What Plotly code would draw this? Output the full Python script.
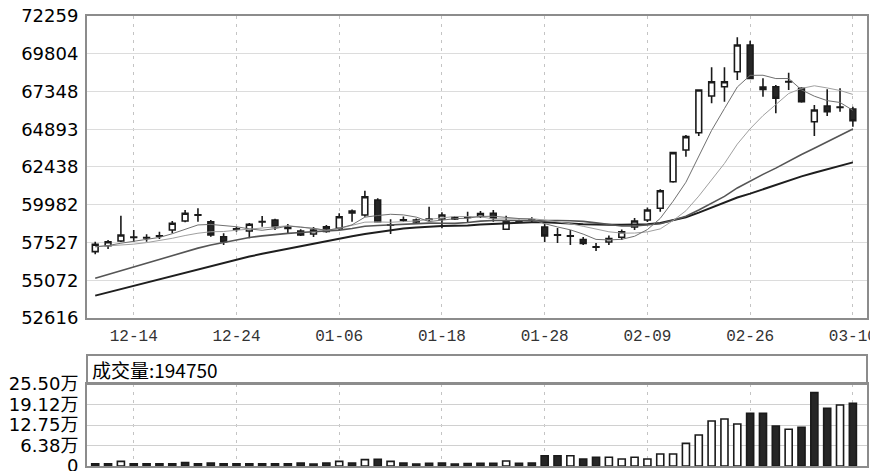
import plotly.graph_objects as go

# ---------------- data ----------------
tick_dates = ["12-14", "12-24", "01-06", "01-18", "01-28", "02-09", "02-26", "03-10"]
tick_pos = [3, 11, 19, 27, 35, 43, 51, 59]

opens = [56930, 57320, 57625, 57860, 57830, 57940, 58340, 58925, 59300, 58880,
         57905, 58395, 58275, 58870, 58990, 58500, 58275, 58080, 58540, 58450,
         59445, 59315, 60290, 58680, 58980, 58990, 59025, 59055, 59060, 59160,
         59220, 59425, 58385, 58910, 59000, 58535, 58000, 57960, 57720, 57225,
         57560, 57865, 58535, 58990, 59750, 61480, 63545, 64670, 67055, 67660,
         68635, 70375, 67640, 67660, 67970, 67555, 65385, 66405, 66330, 66210]
highs = [57580, 57690, 59270, 58340, 58060, 58230, 58925, 59640, 59750, 58990,
         58125, 58555, 58795, 59250, 59075, 58730, 58385, 58535, 58665, 59425,
         59675, 60895, 60400, 59035, 59220, 59090, 59855, 59490, 59250, 59530,
         59575, 59640, 59270, 59000, 59165, 58730, 58470, 58340, 57885, 57495,
         57985, 58375, 59120, 59805, 60990, 63435, 64520, 67490, 68920, 68920,
         70875, 70655, 68205, 67770, 68570, 67620, 66470, 67490, 67555, 66360]
lows = [56760, 57100, 57560, 57560, 57580, 57750, 58125, 58840, 58880, 57905,
        57365, 58230, 57800, 58555, 58340, 58145, 57950, 57885, 58165, 58340,
        58880, 59205, 58880, 58080, 58860, 58795, 58925, 58450, 58990, 58840,
        59120, 58880, 58340, 58800, 58840, 57560, 57495, 57365, 57365, 56975,
        57365, 57690, 58340, 58860, 59530, 61415, 63110, 64455, 66580, 66685,
        68095, 68140, 67010, 65930, 67445, 66620, 64455, 65755, 66035, 65060]
closes = [57410, 57580, 58015, 57880, 57850, 57960, 58780, 59425, 59330, 58015,
          57580, 58415, 58710, 58890, 58555, 58440, 58015, 58340, 58250, 59205,
          59575, 60505, 58880, 58650, 59000, 58860, 59045, 59315, 59150, 59180,
          59415, 59100, 58880, 58850, 58980, 57950, 58030, 57940, 57465, 57250,
          57790, 58230, 58925, 59640, 60895, 63370, 64410, 67445, 67985, 67985,
          70375, 68205, 67480, 66905, 68000, 66685, 66145, 66035, 66310, 65450]

ma5 = [57250, 57330, 57480, 57620, 57747, 57857, 58097, 58379, 58669, 58702,
       58626, 58553, 58410, 58322, 58430, 58602, 58522, 58448, 58320, 58450,
       58677, 59175, 59283, 59363, 59322, 59179, 58887, 58974, 59074, 59110,
       59221, 59232, 59145, 59085, 59045, 58752, 58538, 58350, 58073, 57727,
       57695, 57735, 57932, 58367, 59096, 60212, 61448, 63152, 64821, 66239,
       67640, 68399, 68406, 68190, 68193, 67455, 67043, 66754, 66635, 66125]
ma10 = [57250, 57300, 57350, 57420, 57520, 57640, 57800, 57980, 58130, 58225,
        58242, 58325, 58395, 58496, 58566, 58614, 58538, 58429, 58321, 58440,
        58640, 58849, 58866, 58842, 58886, 58928, 59031, 59129, 59219, 59216,
        59200, 59060, 59060, 59080, 59078, 58987, 58885, 58748, 58579, 58386,
        58224, 58137, 58141, 58220, 58412, 58954, 59592, 60542, 61594, 62668,
        63926, 64924, 65779, 66506, 67216, 67548, 67721, 67580, 67413, 67159]
ma20 = [55200, 55450, 55700, 55950, 56200, 56450, 56700, 56940, 57160, 57360,
        57540, 57710, 57850, 57960, 58050, 58120, 58180, 58230, 58280, 58332,
        58441, 58587, 58630, 58669, 58726, 58771, 58784, 58779, 58770, 58828,
        58920, 58954, 58963, 58961, 58982, 58957, 58958, 58938, 58899, 58801,
        58712, 58598, 58600, 58650, 58745, 58970, 59238, 59645, 60087, 60527,
        61075, 61530, 61960, 62363, 62814, 63251, 63656, 64061, 64503, 64913]
ma30 = [54070, 54285, 54500, 54715, 54930, 55145, 55360, 55575, 55790, 56000,
        56210, 56420, 56610, 56790, 56960, 57130, 57300, 57470, 57630, 57790,
        57940, 58080, 58210, 58330, 58430, 58510, 58570, 58605, 58620, 58627,
        58694, 58744, 58773, 58806, 58843, 58843, 58818, 58768, 58706, 58681,
        58688, 58682, 58689, 58714, 58792, 58956, 59169, 59473, 59797, 60090,
        60450, 60707, 60993, 61268, 61568, 61829, 62066, 62290, 62529, 62738]

volumes = [6500, 6500, 14500, 6500, 6500, 6500, 6500, 10400, 6500, 9400,
           6500, 6500, 6500, 6500, 6500, 6500, 9400, 6000, 9400, 14500,
           9400, 19700, 20800, 14500, 9400, 6000, 8400, 9400, 6000, 7800,
           8400, 8400, 15600, 8400, 9400, 32100, 32100, 32100, 21800, 27000,
           27000, 21800, 27000, 21800, 37300, 37300, 70500, 96400, 140000, 146200,
           130700, 163800, 163800, 124400, 114100, 120300, 228100, 179400, 189800, 194750]
vol_up = [0, 0, 1, 0, 0, 0, 0, 0, 0, 0,
          0, 0, 0, 0, 0, 0, 0, 0, 0, 1,
          0, 1, 0, 1, 0, 0, 0, 0, 0, 0,
          0, 0, 1, 0, 0, 0, 0, 1, 0, 0,
          1, 1, 1, 1, 1, 1, 1, 1, 1, 1,
          1, 0, 0, 0, 1, 0, 0, 0, 1, 0]

price_ticks = [52616, 55072, 57527, 59982, 62438, 64893, 67348, 69804, 72259]
vol_ticks = [0, 63750, 127500, 191250, 255000]
vol_tick_text = ["0", "6.38万", "12.75万", "19.12万", "25.50万"]
vol_label = "成交量"

# ---------------- figure ----------------
idx = list(range(len(closes)))
fig = go.Figure()

ma_styles = [(ma30, "#1e1e1e", 2.0), (ma20, "#555555", 1.6),
             (ma10, "#a0a0a0", 1.0), (ma5, "#707070", 1.0)]
for vals, col, w in ma_styles:
    fig.add_trace(go.Scatter(x=idx, y=vals, mode="lines",
                             line=dict(color=col, width=w),
                             xaxis="x", yaxis="y", hoverinfo="skip"))

fig.add_trace(go.Candlestick(
    x=idx, open=opens, high=highs, low=lows, close=closes,
    increasing=dict(line=dict(color="#1a1a1a", width=1.6), fillcolor="#ffffff"),
    decreasing=dict(line=dict(color="#1a1a1a", width=1.6), fillcolor="#262626"),
    whiskerwidth=0, xaxis="x", yaxis="y"))

fig.add_trace(go.Bar(
    x=idx, y=volumes, width=0.55,
    marker=dict(color=["#ffffff" if u else "#262626" for u in vol_up],
                line=dict(color="#1a1a1a", width=1.6)),
    xaxis="x2", yaxis="y2"))

border = "#8c8c8c"
main_bottom = (458 - 310) / 450
vol_top = (458 - 376) / 450
box_top = (458 - 347) / 450

# the page body adds an 8px offset, so the plot area is placed 8px up/left
fig.update_layout(
    width=870, height=471,
    margin=dict(l=79, r=11, t=8, b=13),
    paper_bgcolor="white", plot_bgcolor="white",
    showlegend=False, boxgap=0.36,
    xaxis=dict(domain=[0, 1], anchor="y", range=[-0.64, 60.1], automargin=False,
               tickvals=tick_pos, ticktext=tick_dates, ticklabeloverflow="allow",
               tickfont=dict(family="Liberation Mono", size=16, color="#333333"),
               ticks="", ticklabelstandoff=2,
               showgrid=True, gridcolor="#c4c4c4", griddash="3px,5px", gridwidth=1,
               showline=True, linecolor=border, linewidth=2, mirror=True,
               zeroline=False, rangeslider=dict(visible=False)),
    yaxis=dict(domain=[main_bottom, 1], anchor="x", range=[52616, 72259], automargin=False,
               tickvals=price_ticks, ticktext=[str(v) for v in price_ticks],
               ticklabeloverflow="allow",
               tickfont=dict(family="DejaVu Sans", size=18, color="#000000"),
               ticks="", ticklabelstandoff=3,
               showgrid=True, gridcolor="#dcdcdc", gridwidth=1,
               showline=True, linecolor=border, linewidth=2, mirror=True,
               zeroline=False),
    xaxis2=dict(domain=[0, 1], anchor="y2", range=[-0.64, 60.1], automargin=False,
                tickvals=tick_pos, showticklabels=False, ticks="",
                showgrid=True, gridcolor="#c4c4c4", griddash="3px,5px", gridwidth=1,
                showline=True, linecolor=border, linewidth=2, mirror=True,
                zeroline=False),
    yaxis2=dict(domain=[0, vol_top], anchor="x2", range=[0, 255000], automargin=False,
                tickvals=vol_ticks, ticktext=vol_tick_text, ticklabeloverflow="allow",
                tickfont=dict(family="DejaVu Sans, Noto Sans CJK SC", size=18, color="#000000"),
                ticks="", ticklabelstandoff=3,
                showgrid=True, gridcolor="#d0d0d0", gridwidth=1,
                showline=True, linecolor=border, linewidth=2, mirror=True,
                zeroline=False),
    shapes=[dict(type="rect", xref="paper", yref="paper",
                 x0=0, x1=1, y0=vol_top, y1=box_top,
                 line=dict(color=border, width=2))],
    annotations=[dict(xref="paper", yref="paper", x=0.004, y=(vol_top + box_top) / 2,
                      xanchor="left", yanchor="middle", showarrow=False,
                      text=f"{vol_label}:{volumes[-1]}",
                      font=dict(family="Noto Sans CJK SC", size=19, color="#000000"))],
)

fig.write_html("out.html")
